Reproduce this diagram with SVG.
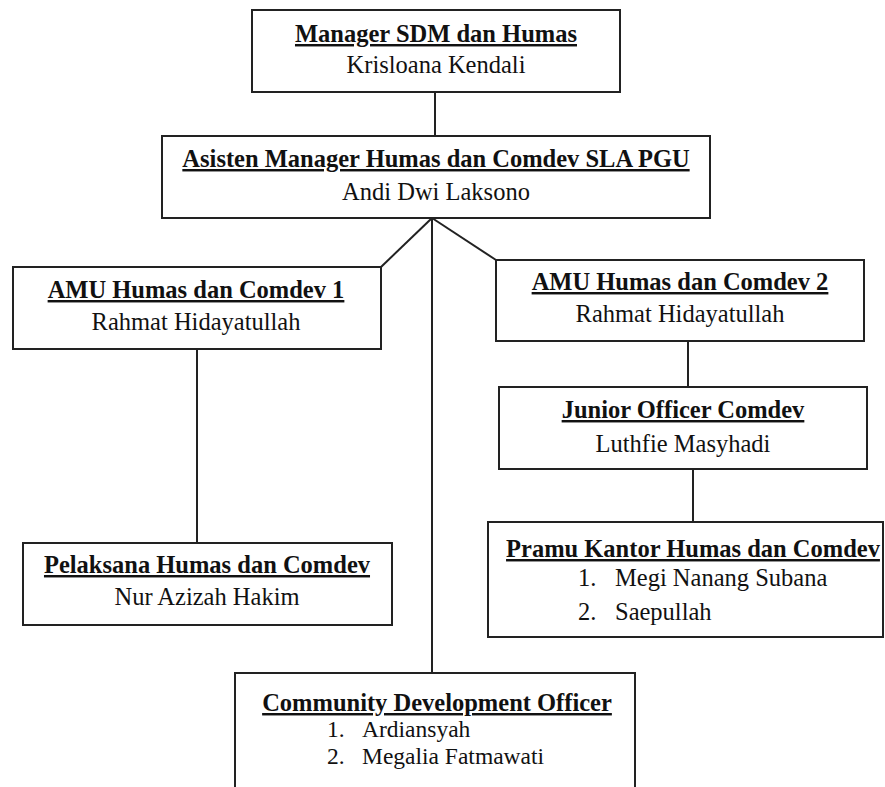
<svg xmlns="http://www.w3.org/2000/svg" width="885" height="787" viewBox="0 0 885 787">
<defs>
<style>
.box{fill:#fff;stroke:#222;stroke-width:2}
.ln{fill:none;stroke:#222;stroke-width:2}
text{font-family:"Liberation Serif","Times New Roman",serif;font-size:24.5px;fill:#111}
.t{font-weight:bold;text-decoration:underline;text-anchor:middle}
.n{text-anchor:middle}
.s{font-size:23.5px}
</style>
</defs>
<rect width="885" height="787" fill="#fff"/>
<g id="connectors">
<line class="ln" x1="435" y1="92" x2="435" y2="136"/>
<line class="ln" x1="432" y1="218" x2="381" y2="267"/>
<line class="ln" x1="432" y1="218" x2="496" y2="260"/>
<line class="ln" x1="432" y1="218" x2="432" y2="673"/>
<line class="ln" x1="197" y1="349" x2="197" y2="543"/>
<line class="ln" x1="688" y1="341" x2="688" y2="387"/>
<line class="ln" x1="693" y1="469" x2="693" y2="522"/>
</g>
<g id="manager">
<rect class="box" x="252" y="10" width="368" height="82"/>
<text class="t" x="436" y="42">Manager SDM dan Humas</text>
<text class="n" x="436" y="73">Krisloana Kendali</text>
</g>
<g id="asisten">
<rect class="box" x="162" y="136" width="548" height="82"/>
<text class="t" x="436" y="167">Asisten Manager Humas dan Comdev SLA PGU</text>
<text class="n" x="436" y="200">Andi Dwi Laksono</text>
</g>
<g id="amu1">
<rect class="box" x="13" y="267" width="368" height="82"/>
<text class="t" x="196" y="298">AMU Humas dan Comdev 1</text>
<text class="n" x="196" y="330">Rahmat Hidayatullah</text>
</g>
<g id="amu2">
<rect class="box" x="496" y="260" width="368" height="81"/>
<text class="t" x="680" y="290">AMU Humas dan Comdev 2</text>
<text class="n" x="680" y="322">Rahmat Hidayatullah</text>
</g>
<g id="pelaksana">
<rect class="box" x="23" y="543" width="369" height="82"/>
<text class="t" x="207" y="573">Pelaksana Humas dan Comdev</text>
<text class="n" x="207" y="605">Nur Azizah Hakim</text>
</g>
<g id="junior">
<rect class="box" x="499" y="387" width="368" height="82"/>
<text class="t" x="683" y="418">Junior Officer Comdev</text>
<text class="n" x="683" y="452">Luthfie Masyhadi</text>
</g>
<g id="pramu">
<rect class="box" x="488" y="522" width="395" height="115"/>
<text class="t" x="693" y="557">Pramu Kantor Humas dan Comdev</text>
<text x="578" y="586">1.</text>
<text x="615" y="586">Megi Nanang Subana</text>
<text x="578" y="620">2.</text>
<text x="615" y="620">Saepullah</text>
</g>
<g id="cdo">
<rect class="box" x="235" y="673" width="400" height="130"/>
<text class="t" x="437" y="711">Community Development Officer</text>
<text class="s" x="327" y="737">1.</text>
<text class="s" x="362" y="737">Ardiansyah</text>
<text class="s" x="327" y="764">2.</text>
<text class="s" x="362" y="764">Megalia Fatmawati</text>
</g>
</svg>
